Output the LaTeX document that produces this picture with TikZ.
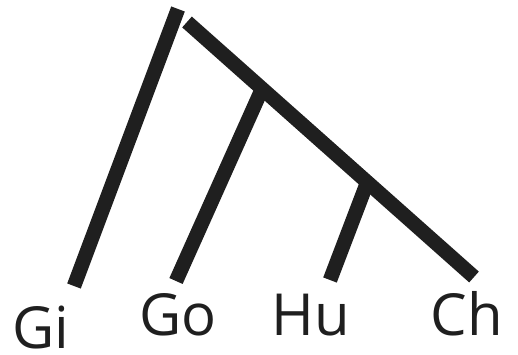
\documentclass[tikz,border=0pt]{standalone}
\usepackage{fontspec}
\setmainfont{Open Sans}
\begin{document}
\begin{tikzpicture}[x=1pt,y=-1pt,
  branch/.style={line width=14.5pt,line cap=butt,color=black!88},
  taxon/.style={anchor=base,inner sep=0pt,font=\fontsize{58}{60}\selectfont,text=black!88}]
\useasboundingbox (0,0) rectangle (518,355);
% coordinates
\coordinate (gitop) at (178,9);
\coordinate (gibot) at (74,286);
\coordinate (root) at (187,22);
\coordinate (chbot) at (474,277);
\coordinate (gojoin) at (262,89);
\coordinate (gobot) at (176,281);
\coordinate (hujoin) at (367,183);
\coordinate (hubot) at (330,280);
% branches
\draw[branch] (gitop) -- (gibot);
\draw[branch] (root) -- (chbot);
\draw[branch] (gojoin) -- (gobot);
\draw[branch] (hujoin) -- (hubot);
% labels
\node[taxon] (gi) at (41,348.5) {Gi};
\node[taxon] (go) at (178,335) {Go};
\node[taxon] (hu) at (311,335) {Hu};
\node[taxon] (ch) at (467,335) {Ch};
\end{tikzpicture}
\end{document}
